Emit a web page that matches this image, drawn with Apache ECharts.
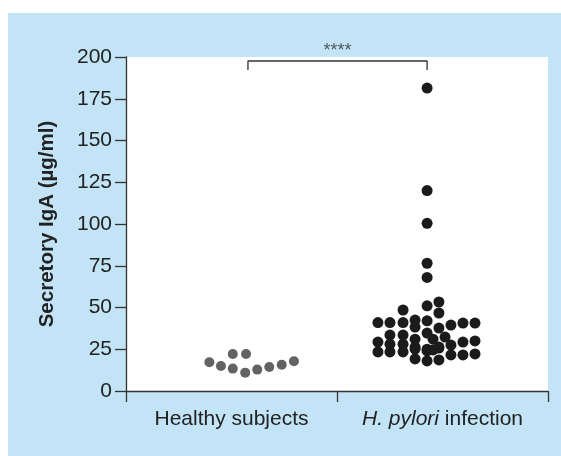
<!DOCTYPE html>
<html><head><meta charset="utf-8">
<script src="https://cdn.jsdelivr.net/npm/echarts@6/dist/echarts.min.js"></script>
<style>
html,body{margin:0;padding:0;background:#fff;}
#bg{position:absolute;left:8px;top:13px;width:553px;height:443px;background:#c2e4f6;}
#main{position:absolute;left:0;top:0;width:561px;height:456px;}
</style></head><body><div id="bg"></div><div id="main"></div>
<script>
// ---- data ----
const categories = ['Healthy subjects', 'H. pylori infection'];
const yTicks = [0, 25, 50, 75, 100, 125, 150, 175, 200];
const yTitle = 'Secretory IgA (µg/ml)';
// dot positions along the x axis (group 1 spans 0..1, group 2 spans 1..2)
const healthyX = [0.395, 0.450, 0.506, 0.569, 0.506, 0.565, 0.622, 0.679, 0.738, 0.796];
const healthyY = [17.2, 15.0, 22.2, 22.2, 13.4, 11.0, 12.8, 14.4, 15.7, 17.8];
const pyloriX = [
  1.194, 1.251, 1.313, 1.370, 1.427, 1.540, 1.597, 1.654, 1.370, 1.483,
  1.313, 1.427, 1.483, 1.483, 1.251, 1.313, 1.370, 1.427, 1.455, 1.512,
  1.194, 1.251, 1.313, 1.370, 1.427, 1.483, 1.540, 1.597, 1.654, 1.194,
  1.251, 1.313, 1.370, 1.427, 1.455, 1.483, 1.540, 1.597, 1.654, 1.370,
  1.427, 1.483, 1.427, 1.427, 1.427, 1.427, 1.427
];
const pyloriY = [
  41, 41, 41, 42.5, 42, 39.5, 40.7, 40.7, 38.3, 37.7,
  48.5, 51, 53.3, 46.7, 33.5, 33.5, 31, 34.7, 31, 32.3,
  29.3, 28, 28, 26.3, 25, 26.3, 27.5, 29.3, 30, 23.4,
  23.4, 23.4, 25.1, 24, 24.6, 25.7, 21.6, 21.6, 22.2, 19.2,
  18, 18.6, 68, 76.5, 100.4, 120, 181.4
];
const bracketX = [0.578, 1.427];
const bracketTop = 197.6;
const bracketEnd = 192.2;
const significance = '****';

// ---- chart ----
const font = '"Liberation Sans", Arial, Helvetica, sans-serif';
const chart = echarts.init(document.getElementById('main'), null, {renderer: 'canvas'});
const pts = (xs, ys) => xs.map((x, i) => [x, ys[i]]);
chart.setOption({
  animation: false,
  backgroundColor: 'transparent',
  textStyle: {fontFamily: font},
  grid: {left: 126, right: 13, top: 57, bottom: 65, show: true, backgroundColor: '#fff', borderWidth: 0},
  xAxis: {
    type: 'value', min: 0, max: 2,
    axisLine: {show: true, lineStyle: {color: '#333', width: 1.3}},
    axisTick: {show: true, customValues: [0, 1, 2], length: 11, inside: false, lineStyle: {color: '#333', width: 1.3}},
    splitLine: {show: false},
    axisLabel: {
      customValues: [0.5, 1.5], margin: 18, fontSize: 21, color: '#222', fontFamily: font,
      formatter: v => v < 1 ? categories[0] : '{i|H. pylori} infection',
      rich: {i: {fontStyle: 'italic', fontSize: 21, color: '#222', fontFamily: font}}
    }
  },
  yAxis: {
    type: 'value', min: yTicks[0], max: yTicks[yTicks.length - 1], interval: yTicks[1] - yTicks[0],
    axisLine: {show: true, lineStyle: {color: '#333', width: 1.3}},
    axisTick: {show: true, length: 11, lineStyle: {color: '#333', width: 1.3}},
    splitLine: {show: false},
    axisLabel: {fontSize: 21, color: '#222', margin: 14, fontFamily: font},
    name: yTitle, nameLocation: 'middle', nameGap: 68,
    nameTextStyle: {fontSize: 20.5, fontWeight: 'bold', color: '#222', fontFamily: font}
  },
  series: [
    {type: 'scatter', data: pts(healthyX, healthyY), symbolSize: 10, itemStyle: {color: '#636363', opacity: 1}},
    {type: 'scatter', data: pts(pyloriX, pyloriY), symbolSize: 11, itemStyle: {color: '#1b1b1b', opacity: 1}},
    {type: 'line', data: [[bracketX[0], bracketEnd], [bracketX[0], bracketTop], [bracketX[1], bracketTop], [bracketX[1], bracketEnd]],
     symbol: 'none', lineStyle: {color: '#333', width: 1.3}, clip: false, silent: true},
    {type: 'scatter', data: [[(bracketX[0] + bracketX[1]) / 2, bracketTop]], symbolSize: 0, clip: false,
     label: {show: true, position: 'top', distance: 1, formatter: significance, fontSize: 18, color: '#333', fontFamily: font}}
  ]
});
</script></body></html>
